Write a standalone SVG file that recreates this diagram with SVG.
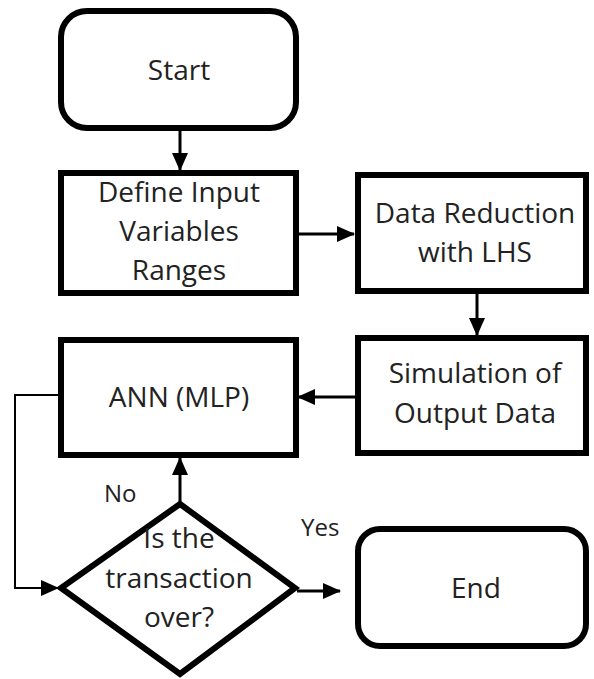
<svg xmlns="http://www.w3.org/2000/svg" width="594" height="679" viewBox="0 0 594 679">
  <style>
    .box { fill: #ffffff; stroke: #000000; stroke-width: 6; }
    .lbl { font-family: "Open Sans", "Liberation Sans", sans-serif; font-size: 28px; fill: #222222; text-anchor: middle; }
    .edge { fill: none; stroke: #000000; stroke-width: 3; }
    .thin { fill: none; stroke: #000000; stroke-width: 2; }
    .tag { font-family: "Open Sans", "Liberation Sans", sans-serif; font-size: 24px; fill: #222222; }
  </style>
  <defs>
    <marker id="arrow" markerWidth="18" markerHeight="16" refX="17" refY="8" orient="auto" markerUnits="userSpaceOnUse">
      <path d="M0,0 L18,8 L0,16 Z" fill="#000000"/>
    </marker>
  </defs>

  <rect width="594" height="679" fill="#ffffff"/>

  <!-- connectors -->
  <g id="connectors">
    <line class="edge" x1="180" y1="130" x2="180" y2="170" marker-end="url(#arrow)"/>
    <line class="edge" x1="297" y1="234" x2="354" y2="234" marker-end="url(#arrow)"/>
    <line class="edge" x1="477" y1="293" x2="477" y2="335" marker-end="url(#arrow)"/>
    <line class="edge" x1="355" y1="397" x2="298" y2="397" marker-end="url(#arrow)"/>
    <line class="edge" x1="180" y1="502" x2="180" y2="458" marker-end="url(#arrow)"/>
    <polyline class="thin" points="58,395 15,395 15,588 58,588" marker-end="url(#arrow)"/>
    <line class="edge" x1="297" y1="591" x2="340" y2="591" marker-end="url(#arrow)"/>
    <text class="tag" x="104" y="502">No</text>
    <text class="tag" x="301" y="536">Yes</text>
  </g>

  <g id="start">
    <rect class="box" x="61" y="11" width="235" height="117" rx="26"/>
    <text class="lbl" x="179" y="80">Start</text>
  </g>

  <g id="define">
    <rect class="box" x="61" y="173" width="235" height="120"/>
    <text class="lbl" x="179" y="202">Define Input</text>
    <text class="lbl" x="179" y="241">Variables</text>
    <text class="lbl" x="179" y="280">Ranges</text>
  </g>

  <g id="reduction">
    <rect class="box" x="358" y="175" width="228" height="116"/>
    <text class="lbl" x="475" y="223">Data Reduction</text>
    <text class="lbl" x="475" y="262">with LHS</text>
  </g>

  <g id="simulation">
    <rect class="box" x="358" y="338" width="228" height="115"/>
    <text class="lbl" x="475" y="383">Simulation of</text>
    <text class="lbl" x="475" y="423">Output Data</text>
  </g>

  <g id="ann">
    <rect class="box" x="61" y="340" width="235" height="115"/>
    <text class="lbl" x="179" y="407">ANN (MLP)</text>
  </g>

  <g id="decision">
    <polygon class="box" points="180,504 295,588 180,674 61,588"/>
    <text class="lbl" x="179" y="548">Is the</text>
    <text class="lbl" x="179" y="588">transaction</text>
    <text class="lbl" x="179" y="627">over?</text>
  </g>

  <g id="end">
    <rect class="box" x="358" y="529" width="228" height="117" rx="22"/>
    <text class="lbl" x="476" y="598">End</text>
  </g>
</svg>
